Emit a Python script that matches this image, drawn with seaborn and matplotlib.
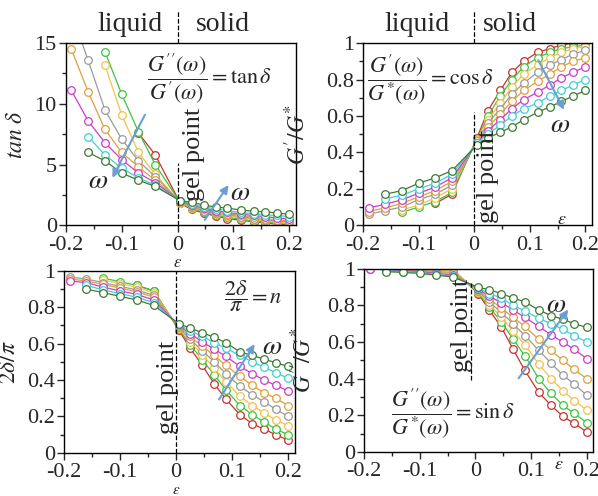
import numpy as np
import pandas as pd
import matplotlib
matplotlib.use("Agg")
import matplotlib.pyplot as plt
import seaborn as sns
from matplotlib.ticker import MultipleLocator, FuncFormatter
import matplotlib.transforms as mtransforms

# strain distance from the gel point
eps_liquid = [-0.19, -0.16, -0.13, -0.10, -0.07, -0.04]
eps_solid = [0.005, 0.025, 0.047, 0.068, 0.089, 0.114, 0.136, 0.157, 0.178, 0.2]

# series ordered from low to high frequency
series_names = ["w1", "w2", "w3", "w4", "w5", "w6", "w7", "w8"]
series_colors = ["#c8322d", "#3ec43e", "#f2c24a", "#9a9a9a",
                 "#dea03c", "#c93ec9", "#3fcfd6", "#3f7a34"]

nan = np.nan

# tan delta
tan_liquid = [
    [nan, nan, nan, nan, 7.6, 5.8],
    [nan, nan, 14.3, 10.8, 7.7, 5.0],
    [nan, nan, 13.2, 9.1, 6.0, 4.2],
    [17.5, 13.6, 9.5, 7.1, 5.3, 4.0],
    [14.5, 11.0, 7.9, 6.0, 4.8, 3.7],
    [11.1, 8.6, 6.8, 5.4, 4.3, 3.5],
    [nan, 7.3, 5.8, 4.7, 3.9, 3.3],
    [nan, 6.0, 5.3, 4.3, 3.7, 3.2],
]
tan_solid = [
    [1.8, 1.3, 1.0, 0.75, 0.55, 0.4, 0.28, 0.18, 0.1, 0.03],
    [1.85, 1.4, 1.1, 0.85, 0.65, 0.5, 0.35, 0.25, 0.15, 0.08],
    [1.85, 1.45, 1.15, 0.9, 0.75, 0.6, 0.45, 0.35, 0.25, 0.15],
    [1.9, 1.5, 1.2, 1.0, 0.85, 0.7, 0.55, 0.45, 0.35, 0.25],
    [1.95, 1.55, 1.3, 1.1, 0.95, 0.8, 0.65, 0.55, 0.45, 0.35],
    [2.0, 1.65, 1.4, 1.2, 1.05, 0.9, 0.8, 0.7, 0.6, 0.5],
    [2.0, 1.75, 1.5, 1.35, 1.2, 1.05, 0.95, 0.85, 0.8, 0.7],
    [2.0, 1.9, 1.65, 1.5, 1.4, 1.25, 1.15, 1.1, 1.0, 0.9],
]

# G'/G* = cos delta
cos_liquid = [
    [nan, nan, nan, nan, 0.12, 0.17],
    [nan, nan, 0.07, 0.10, 0.13, 0.18],
    [nan, nan, 0.085, 0.11, 0.15, 0.20],
    [0.06, 0.08, 0.10, 0.14, 0.17, 0.22],
    [0.075, 0.095, 0.12, 0.155, 0.19, 0.24],
    [0.095, 0.115, 0.14, 0.175, 0.21, 0.26],
    [nan, 0.145, 0.165, 0.2, 0.23, 0.28],
    [nan, 0.17, 0.19, 0.23, 0.26, 0.30],
]
cos_solid = [
    [0.48, 0.63, 0.74, 0.84, 0.90, 0.95, 0.97, 0.99, 1.0, 1.0],
    [0.47, 0.60, 0.71, 0.80, 0.87, 0.92, 0.95, 0.97, 0.98, 0.99],
    [0.47, 0.58, 0.67, 0.76, 0.83, 0.88, 0.92, 0.95, 0.97, 0.98],
    [0.46, 0.56, 0.64, 0.72, 0.78, 0.84, 0.88, 0.91, 0.94, 0.96],
    [0.46, 0.54, 0.61, 0.68, 0.74, 0.79, 0.83, 0.87, 0.90, 0.92],
    [0.45, 0.52, 0.58, 0.64, 0.69, 0.73, 0.77, 0.81, 0.84, 0.87],
    [0.45, 0.50, 0.55, 0.60, 0.64, 0.67, 0.71, 0.74, 0.77, 0.80],
    [0.44, 0.48, 0.51, 0.54, 0.58, 0.62, 0.65, 0.68, 0.71, 0.74],
]

# 2 delta / pi = n
n_liquid = [
    [nan, nan, nan, nan, 0.92, 0.89],
    [nan, nan, 0.96, 0.94, 0.92, 0.89],
    [nan, nan, 0.95, 0.93, 0.91, 0.88],
    [0.965, 0.955, 0.935, 0.915, 0.895, 0.865],
    [0.955, 0.945, 0.925, 0.905, 0.885, 0.855],
    [0.945, 0.935, 0.91, 0.89, 0.87, 0.84],
    [nan, 0.92, 0.895, 0.875, 0.855, 0.825],
    [nan, 0.90, 0.88, 0.86, 0.84, 0.81],
]
n_solid = [
    [0.675, 0.575, 0.48, 0.38, 0.295, 0.21, 0.16, 0.13, 0.10, 0.07],
    [0.68, 0.595, 0.51, 0.43, 0.345, 0.26, 0.21, 0.17, 0.13, 0.10],
    [0.685, 0.61, 0.54, 0.465, 0.39, 0.31, 0.26, 0.22, 0.18, 0.15],
    [0.69, 0.625, 0.56, 0.50, 0.435, 0.365, 0.32, 0.28, 0.24, 0.20],
    [0.695, 0.64, 0.585, 0.535, 0.48, 0.42, 0.37, 0.33, 0.30, 0.26],
    [0.70, 0.655, 0.61, 0.57, 0.53, 0.475, 0.435, 0.40, 0.37, 0.34],
    [0.705, 0.67, 0.64, 0.605, 0.575, 0.535, 0.50, 0.47, 0.44, 0.41],
    [0.71, 0.685, 0.66, 0.635, 0.605, 0.555, 0.535, 0.515, 0.495, 0.475],
]

# G''/G* = sin delta
sin_liquid = [
    [nan, nan, nan, nan, 0.995, 0.995],
    [nan, nan, 1.0, 0.995, 0.995, 0.99],
    [nan, nan, 0.995, 0.995, 0.99, 0.99],
    [1.0, 0.995, 0.995, 0.99, 0.985, 0.98],
    [1.0, 0.995, 0.99, 0.99, 0.98, 0.975],
    [1.0, 0.995, 0.99, 0.985, 0.975, 0.965],
    [nan, 0.99, 0.985, 0.98, 0.97, 0.96],
    [nan, 0.985, 0.98, 0.975, 0.965, 0.955],
]
sin_solid = [
    [0.865, 0.775, 0.68, 0.56, 0.445, 0.325, 0.255, 0.195, 0.155, 0.11],
    [0.87, 0.79, 0.71, 0.615, 0.525, 0.40, 0.32, 0.255, 0.21, 0.16],
    [0.875, 0.805, 0.735, 0.66, 0.585, 0.48, 0.40, 0.335, 0.28, 0.23],
    [0.88, 0.82, 0.76, 0.70, 0.635, 0.555, 0.485, 0.42, 0.37, 0.31],
    [0.885, 0.835, 0.785, 0.735, 0.685, 0.615, 0.555, 0.50, 0.45, 0.40],
    [0.89, 0.85, 0.815, 0.775, 0.735, 0.685, 0.64, 0.60, 0.56, 0.51],
    [0.895, 0.865, 0.84, 0.80, 0.77, 0.73, 0.70, 0.67, 0.635, 0.60],
    [0.90, 0.885, 0.865, 0.84, 0.82, 0.775, 0.745, 0.725, 0.70, 0.68],
]


def to_frame(liquid, solid):
    rows = []
    for name, liq, sol in zip(series_names, liquid, solid):
        for e, v in zip(eps_liquid + eps_solid, liq + sol):
            if not np.isnan(v):
                rows.append({"eps": e, "value": v, "series": name})
    return pd.DataFrame(rows)


sns.set_style("ticks")
plt.rcParams["font.family"] = ["Liberation Serif", "DejaVu Serif"]
plt.rcParams["mathtext.fontset"] = "stix"
plt.rcParams["axes.unicode_minus"] = False

TICK = 16
fig = plt.figure(figsize=(5.98, 4.96), dpi=100)
ax_tl = fig.add_axes([0.110, 0.546, 0.385, 0.367])
ax_tr = fig.add_axes([0.607, 0.546, 0.383, 0.367])
ax_bl = fig.add_axes([0.107, 0.087, 0.386, 0.367])
ax_br = fig.add_axes([0.609, 0.089, 0.383, 0.369])

ARROW = "#6b9fd3"


def draw_panel(ax, liquid, solid, ylim, ymajor, xpad=3):
    df = to_frame(liquid, solid)
    for name, col in zip(series_names, series_colors):
        sub = df[df["series"] == name]
        sns.lineplot(data=sub, x="eps", y="value", ax=ax, color=col,
                     marker="o", markersize=5.5, markerfacecolor="white",
                     markeredgecolor=col, markeredgewidth=0.9, linewidth=0.9,
                     estimator=None, sort=False, legend=False)
    ax.set_xlim(-0.2, 0.212)
    ax.set_ylim(*ylim)
    ax.xaxis.set_major_locator(MultipleLocator(0.1))
    ax.xaxis.set_minor_locator(MultipleLocator(0.05))
    ax.yaxis.set_major_locator(MultipleLocator(ymajor))
    ax.yaxis.set_minor_locator(MultipleLocator(ymajor / 2))
    fmt = FuncFormatter(lambda v, p: ("%.1f" % v).rstrip("0").rstrip(".") if abs(v) > 1e-9 else "0")
    ax.xaxis.set_major_formatter(fmt)
    ax.yaxis.set_major_formatter(fmt)
    ax.tick_params(which="major", direction="out", length=5, width=1, labelsize=TICK, pad=1.5)
    ax.tick_params(axis="x", which="major", pad=xpad)
    ax.tick_params(which="minor", direction="out", length=3, width=1)
    ax.tick_params(top=False, right=False)
    for s in ax.spines.values():
        s.set_visible(True)
        s.set_linewidth(1)
        s.set_color("black")
    ax.set_xlabel("")


def arrow(ax, start, end):
    ax.annotate("", xy=end, xytext=start,
                arrowprops=dict(arrowstyle="-|>", color=ARROW, lw=1.5, mutation_scale=12))


def xblend(ax):
    return mtransforms.blended_transform_factory(ax.transData, ax.transAxes)


# top left: tan delta
draw_panel(ax_tl, tan_liquid, tan_solid, (0, 15), 5)
ax_tl.set_ylabel(r"$\mathit{tan}\ \delta$", fontsize=17)
ax_tl.yaxis.set_label_coords(-0.17, 0.5)
ax_tl.text(0.0, -0.205, r"$\varepsilon$", transform=xblend(ax_tl), ha="center", va="center", fontsize=12)
ax_tl.text(0.058, 12.1, r"$\dfrac{G^{\prime\prime}(\omega)}{G^{\prime}(\omega)}=\tan\delta$",
           ha="center", va="center", fontsize=16)
ax_tl.plot([0, 0], [0, 5.1], ls="--", color="black", lw=0.9)
ax_tl.text(0.029, 5.8, "gel point", rotation=90, ha="center", va="center", fontsize=19)
arrow(ax_tl, (-0.056, 9.3), (-0.119, 3.7))
ax_tl.text(-0.142, 3.6, r"$\omega$", ha="center", va="center", fontsize=20)
arrow(ax_tl, (0.046, 0.25), (0.094, 3.5))
ax_tl.text(0.112, 2.6, r"$\omega$", ha="center", va="center", fontsize=20)

# top right: cos delta
draw_panel(ax_tr, cos_liquid, cos_solid, (0, 1), 0.2)
ax_tr.set_ylabel(r"$G^{\prime}/G^{*}$", fontsize=17)
ax_tr.yaxis.set_label_coords(-0.23, 0.5)
ax_tr.text(-0.078, 0.80, r"$\dfrac{G^{\prime}(\omega)}{G\,^{*}(\omega)}=\cos\delta$",
           ha="center", va="center", fontsize=16)
ax_tr.plot([0, 0], [0, 0.62], ls="--", color="black", lw=0.9)
ax_tr.text(0.025, 0.27, "gel point", rotation=90, ha="center", va="center", fontsize=19)
arrow(ax_tr, (0.113, 0.92), (0.164, 0.62))
ax_tr.text(0.155, 0.55, r"$\omega$", ha="center", va="center", fontsize=20)
ax_tr.text(0.158, 0.03, r"$\varepsilon$", transform=xblend(ax_tr), ha="center", va="center", fontsize=13)

for ax in (ax_tl, ax_tr):
    ax.plot([0, 0], [1.0, 1.18], ls="--", color="black", lw=0.9, transform=xblend(ax), clip_on=False)
ax_tl.text(-0.085, 1.10, "liquid", transform=xblend(ax_tl), ha="center", va="center", fontsize=20)
ax_tl.text(0.082, 1.10, "solid", transform=xblend(ax_tl), ha="center", va="center", fontsize=20)
ax_tr.text(-0.103, 1.10, "liquid", transform=xblend(ax_tr), ha="center", va="center", fontsize=20)
ax_tr.text(0.065, 1.10, "solid", transform=xblend(ax_tr), ha="center", va="center", fontsize=20)

# bottom left: 2 delta / pi
draw_panel(ax_bl, n_liquid, n_solid, (0, 1), 0.2, xpad=2)
ax_bl.set_ylabel(r"$2\delta/\pi$", fontsize=17)
ax_bl.yaxis.set_label_coords(-0.19, 0.5)
ax_bl.text(0.0, -0.205, r"$\varepsilon$", transform=xblend(ax_bl), ha="center", va="center", fontsize=11)
ax_bl.text(0.138, 0.86, r"$\dfrac{2\delta}{\pi}=n$", ha="center", va="center", fontsize=16)
ax_bl.plot([0, 0], [0, 1], ls="--", color="black", lw=0.9)
ax_bl.text(-0.015, 0.36, "gel point", rotation=90, ha="center", va="center", fontsize=19)
arrow(ax_bl, (0.074, 0.28), (0.143, 0.61))
ax_bl.text(0.172, 0.58, r"$\omega$", ha="center", va="center", fontsize=20)

# bottom right: sin delta
draw_panel(ax_br, sin_liquid, sin_solid, (0, 1), 0.2, xpad=2)
ax_br.set_ylabel(r"$G^{\prime\prime}/G^{*}$", fontsize=17)
ax_br.yaxis.set_label_coords(-0.21, 0.5)
ax_br.text(-0.041, 0.21, r"$\dfrac{G^{\prime\prime}(\omega)}{G\,^{*}(\omega)}=\sin\delta$",
           ha="center", va="center", fontsize=16)
ax_br.plot([-0.007, -0.007], [0.39, 0.92], ls="--", color="black", lw=0.9)
ax_br.text(-0.024, 0.69, "gel point", rotation=90, ha="center", va="center", fontsize=19)
arrow(ax_br, (0.075, 0.39), (0.17, 0.79))
ax_br.text(0.145, 0.80, r"$\omega$", ha="center", va="center", fontsize=20)
ax_br.text(0.15, -0.07, r"$\varepsilon$", transform=xblend(ax_br), ha="center", va="center", fontsize=13)

fig.savefig("out.png", dpi=100)
